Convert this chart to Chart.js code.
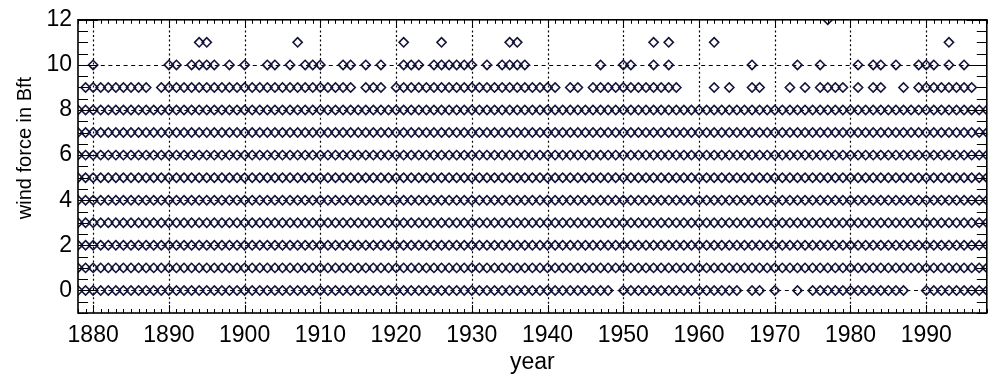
<!DOCTYPE html>
<html>
<head>
<meta charset="utf-8">
<script src="https://cdn.jsdelivr.net/npm/chart.js@4.4.1/dist/chart.umd.min.js"></script>
<style>
html,body{margin:0;padding:0;background:#ffffff;}
#wrap{width:993px;height:378px;position:relative;}
</style>
</head>
<body>
<div id="wrap"><canvas id="c" width="993" height="378"></canvas></div>
<script>
// ---- data ----
const years = [
  1878,1879,
  1880,1881,1882,1883,1884,1885,1886,1887,1888,1889,
  1890,1891,1892,1893,1894,1895,1896,1897,1898,1899,
  1900,1901,1902,1903,1904,1905,1906,1907,1908,1909,
  1910,1911,1912,1913,1914,1915,1916,1917,1918,1919,
  1920,1921,1922,1923,1924,1925,1926,1927,1928,1929,
  1930,1931,1932,1933,1934,1935,1936,1937,1938,1939,
  1940,1941,1942,1943,1944,1945,1946,1947,1948,1949,
  1950,1951,1952,1953,1954,1955,1956,1957,1958,1959,
  1960,1961,1962,1963,1964,1965,1966,1967,1968,1969,
  1970,1971,1972,1973,1974,1975,1976,1977,1978,1979,
  1980,1981,1982,1983,1984,1985,1986,1987,1988,1989,
  1990,1991,1992,1993,1994,1995,1996,1997,1998
];
const xTickLabels = [1880,1890,1900,1910,1920,1930,1940,1950,1960,1970,1980,1990];
const yTickLabels = [0,2,4,6,8,10,12];

// years with no observation of that wind force (dense rows)
const force0Missing = [1949,1966,1969,1971,1972,1974,1988,1989];
const force9Missing = [1878,1888,1915,1919,1942,1945,1958,1959,1960,1961,1963,1965,1966,
                       1969,1970,1971,1973,1975,1980,1982,1985,1986,1988,1997,1998];
// years with an observation (sparse rows)
const force10 = [1880,1890,1891,1893,1894,1895,1896,1898,1900,1903,1904,1906,1908,1909,1910,
                 1913,1914,1916,1918,1921,1922,1923,1925,1926,1927,1928,1929,1930,1932,
                 1934,1935,1936,1937,1947,1950,1951,1954,1956,1967,1973,1976,1981,1983,1984,
                 1986,1989,1990,1991,1993,1995];
const force11 = [1894,1895,1907,1921,1926,1935,1936,1954,1956,1962,1993];
const force12 = [1977];

const force0 = years.filter(y => !force0Missing.includes(y));
const force1 = years, force2 = years, force3 = years, force4 = years,
      force5 = years, force6 = years, force7 = years, force8 = years;
const force9 = years.filter(y => !force9Missing.includes(y));

const rows = [force0,force1,force2,force3,force4,force5,force6,force7,force8,force9,force10,force11,force12];

const FONT = '"Liberation Sans", Arial, Helvetica, sans-serif';
const MARK = '#14143a';

const datasets = rows.map((yrs, f) => ({
  label: 'Bft ' + f,
  data: yrs.map(yr => ({x: yr, y: f})),
  showLine: false,
  pointStyle: 'rectRot',
  pointRadius: 4.6,
  pointHoverRadius: 4.6,
  pointBorderWidth: 1.6,
  pointBorderColor: MARK,
  pointBackgroundColor: 'rgba(0,0,0,0)',
  clip: 0
}));

const frame = {
  id: 'frame',
  beforeDatasetsDraw(chart) {
    const {ctx, chartArea: a, scales: {x, y}} = chart;
    ctx.save();
    ctx.strokeStyle = '#000';
    ctx.lineWidth = 1.2;
    ctx.setLineDash([2, 2.6]);
    xTickLabels.forEach(v => {
      const px = Math.round(x.getPixelForValue(v)) + 0.5;
      ctx.beginPath(); ctx.moveTo(px, a.bottom); ctx.lineTo(px, a.top); ctx.stroke();
    });
    ctx.lineWidth = 1;
    ctx.setLineDash([4, 3.6]);
    yTickLabels.forEach(v => {
      if (v >= 12) return;
      const py = Math.round(y.getPixelForValue(v)) + 0.5;
      ctx.beginPath(); ctx.moveTo(a.left, py); ctx.lineTo(a.right, py); ctx.stroke();
    });
    ctx.restore();
  },
  afterDatasetsDraw(chart) {
    const {ctx, chartArea: a, scales: {x, y}} = chart;
    ctx.save();
    ctx.strokeStyle = '#000';
    ctx.setLineDash([]);
    ctx.lineWidth = 1;
    // x ticks every year, inward, top and bottom
    for (let v = 1878; v <= 1998; v += 1) {
      const px = Math.round(x.getPixelForValue(v)) + 0.5;
      const len = (v % 10 === 0) ? 8 : 4;
      ctx.beginPath();
      ctx.moveTo(px, a.bottom); ctx.lineTo(px, a.bottom - len);
      ctx.moveTo(px, a.top); ctx.lineTo(px, a.top + len);
      ctx.stroke();
    }
    // y ticks every 0.5, inward, left and right
    for (let k = -2; k <= 24; k++) {
      const v = k / 2;
      const py = Math.round(y.getPixelForValue(v)) + 0.5;
      const len = (k % 4 === 0) ? 20 : 10;
      ctx.beginPath();
      ctx.moveTo(a.left, py); ctx.lineTo(a.left + len, py);
      ctx.moveTo(a.right, py); ctx.lineTo(a.right - len, py);
      ctx.stroke();
    }
    ctx.lineWidth = 1.6;
    ctx.strokeRect(a.left, a.top, a.right - a.left, a.bottom - a.top);
    // y axis title
    ctx.fillStyle = '#000';
    ctx.font = '20px ' + FONT;
    ctx.textAlign = 'center';
    ctx.textBaseline = 'middle';
    ctx.translate(25, 148);
    ctx.rotate(-Math.PI / 2);
    ctx.fillText('wind force in Bft', 0, 0);
    ctx.restore();
  }
};

new Chart(document.getElementById('c'), {
  type: 'scatter',
  data: { datasets },
  options: {
    responsive: false,
    animation: false,
    events: [],
    layout: { padding: { left: 0, right: 3, top: 13, bottom: 0 } },
    plugins: { legend: { display: false }, tooltip: { enabled: false } },
    scales: {
      x: {
        type: 'linear', min: 1878, max: 1998,
        afterBuildTicks: s => { s.ticks = xTickLabels.map(v => ({ value: v })); },
        afterFit: s => { s.height = 65; },
        grid: { display: false, drawTicks: false },
        border: { display: false },
        ticks: { color: '#000', font: { family: FONT, size: 23 }, padding: 9, maxRotation: 0, autoSkip: false,
                 callback: v => String(v) },
        title: { display: true, text: 'year', color: '#000', font: { family: FONT, size: 23 }, padding: { top: 0, bottom: 2 } }
      },
      y: {
        type: 'linear', min: -1, max: 12,
        afterBuildTicks: s => { s.ticks = yTickLabels.map(v => ({ value: v })); },
        afterFit: s => { s.width = 78; },
        grid: { display: false, drawTicks: false },
        border: { display: false },
        ticks: { color: '#000', font: { family: FONT, size: 23 }, padding: 6, autoSkip: false,
                 callback: v => String(v) }
      }
    }
  },
  plugins: [frame]
});
</script>
</body>
</html>
